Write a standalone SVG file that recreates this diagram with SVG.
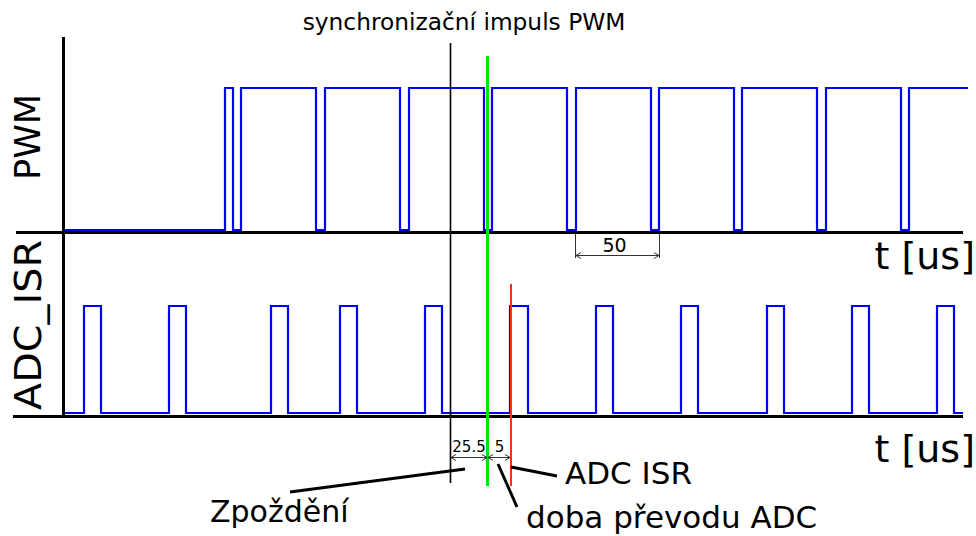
<svg xmlns="http://www.w3.org/2000/svg" width="976" height="536" viewBox="0 0 976 536">
  <style>
    .axis { stroke: #000; stroke-width: 3; fill: none; }
    .sig { stroke: #0000ff; stroke-width: 2.2; fill: none; stroke-linejoin: miter; }
    .mark { stroke: #000; stroke-width: 1.6; fill: none; }
    .dim { stroke: #333; stroke-width: 1; fill: none; }
    .lead { stroke: #000; stroke-width: 3; fill: none; }
    text { font-family: "DejaVu Sans", Verdana, sans-serif; fill: #000; }
  </style>
  <defs>
    <marker id="arr" viewBox="-7 -4 8 8" markerWidth="8" markerHeight="8" refX="0" refY="0" orient="auto-start-reverse" markerUnits="userSpaceOnUse">
      <path d="M-5,-3 L0,0 L-5,3" fill="none" stroke="#333" stroke-width="1"/>
    </marker>
  </defs>
  <rect width="976" height="536" fill="#fff"/>

  <g id="axes">
    <line class="axis" x1="63.5" y1="37" x2="63.5" y2="418"/>
    <line class="axis" x1="16" y1="232.5" x2="963" y2="232.5"/>
    <line class="axis" x1="13" y1="416.5" x2="963" y2="416.5"/>
  </g>

  <g id="pwm-signal">
    <path class="sig" d="M65,230 H225 V88 H233 V230 H241 V88 H316 V230 H325 V88 H400 V230 H409 V88 H484 V230 H492 V88 H567 V230 H576 V88 H651 V230 H659 V88 H734 V230 H742 V88 H817 V230 H826 V88 H901 V230 H909 V88 H968"/>
  </g>

  <g id="adc-signal">
    <path class="sig" d="M65,413 H84 V306 H101 V413 H169 V306 H186 V413 H271 V306 H288 V413 H340 V306 H357 V413 H425 V306 H442 V413 H510 V306 H528 V413 H596 V306 H613 V413 H681 V306 H698 V413 H767 V306 H784 V413 H852 V306 H869 V413 H937 V306 H954 V413 H963"/>
  </g>

  <g id="sync-marker">
    <line class="mark" x1="450.5" y1="43" x2="450.5" y2="483"/>
  </g>
  <g id="adc-start-marker">
    <line x1="487.5" y1="56" x2="487.5" y2="486" stroke="#00e600" stroke-width="3"/>
  </g>
  <g id="adc-isr-marker">
    <line x1="511" y1="284" x2="511" y2="486" stroke="#ff3300" stroke-width="2"/>
  </g>

  <g id="labels">
    <text x="464" y="30" font-size="23.3" text-anchor="middle">synchronizační impuls PWM</text>
    <text transform="translate(40,137) rotate(-90)" font-size="35" text-anchor="middle" textLength="86" lengthAdjust="spacingAndGlyphs">PWM</text>
    <text transform="translate(41,325) rotate(-90)" font-size="37" text-anchor="middle" textLength="170" lengthAdjust="spacingAndGlyphs">ADC_ISR</text>
    <text x="975" y="269" font-size="38" text-anchor="end">t [us]</text>
    <text x="975" y="462" font-size="38" text-anchor="end">t [us]</text>
    <text x="614.5" y="252" font-size="19" text-anchor="middle">50</text>
    <text x="469" y="452" font-size="15" text-anchor="middle">25.5</text>
    <text x="499.5" y="452" font-size="15" text-anchor="middle">5</text>
    <text x="210" y="522" font-size="30">Zpoždění</text>
    <text x="565" y="484" font-size="31">ADC ISR</text>
    <text x="526" y="528" font-size="31">doba převodu ADC</text>
  </g>

  <g id="connectors">
    <line class="dim" x1="575.5" y1="234" x2="575.5" y2="258"/>
    <line class="dim" x1="659.5" y1="234" x2="659.5" y2="258"/>
    <line class="dim" x1="576" y1="255.5" x2="659" y2="255.5" marker-start="url(#arr)" marker-end="url(#arr)"/>
    <line class="dim" x1="451" y1="457.5" x2="487" y2="457.5" marker-start="url(#arr)" marker-end="url(#arr)"/>
    <line class="dim" x1="488" y1="457.5" x2="510" y2="457.5" marker-start="url(#arr)" marker-end="url(#arr)"/>
    <line class="lead" x1="290" y1="492" x2="465" y2="469"/>
    <line class="lead" x1="498" y1="464" x2="517" y2="507"/>
    <line class="lead" x1="511" y1="467" x2="557" y2="476"/>
  </g>
</svg>
